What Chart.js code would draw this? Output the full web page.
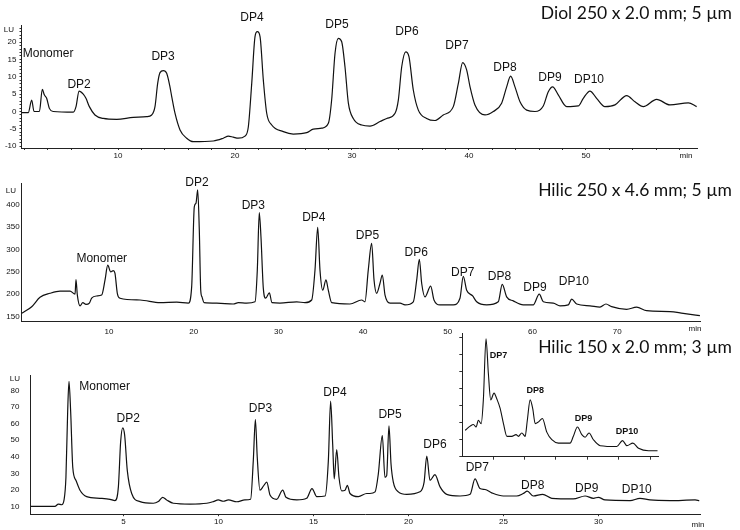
<!DOCTYPE html>
<html>
<head>
<meta charset="utf-8">
<script src="https://cdn.jsdelivr.net/npm/chart.js@4.4.1/dist/chart.umd.min.js"></script>
<style>
  body { margin: 0; background: #fff; }
  #wrap { position: relative; width: 740px; height: 530px; overflow: hidden; }
  #wrap canvas { position: absolute; }
</style>
</head>
<body>
<div id="wrap">
  <canvas id="diol" width="740" height="170" style="left:0;top:0"></canvas>
  <canvas id="hilic250" width="740" height="175" style="left:0;top:165px"></canvas>
  <canvas id="hilic150" width="740" height="200" style="left:0;top:330px"></canvas>
  <canvas id="inset" width="230" height="140" style="left:440px;top:325px"></canvas>
</div>
<script>
// Diol 250 x 2.0 mm (time in min, signal in LU)
const diolTime = [1.77,2.33,2.62,2.82,3.28,3.53,3.7,3.9,4.13,4.47,
  6.18,6.41,6.67,7.03,7.26,7.55,8.03,8.74,9.89,11.31,
  12.45,12.88,13.16,13.39,13.59,13.87,14.16,14.44,14.59,14.87,
  15.3,15.87,16.44,18.15,19,19.43,19.85,20.28,20.85,21.14,
  21.43,21.71,21.91,22.14,22.42,22.71,23.14,24.13,24.98,26.13,
  26.69,27.41,27.98,28.26,28.55,28.83,29.12,29.4,29.69,30.11,
  30.83,31.54,32.39,32.97,33.68,33.96,34.25,34.59,34.87,35.24,
  35.67,36.38,37.09,37.8,38.66,39.09,39.46,39.8,40.09,40.51,
  41.37,42.08,42.79,43.22,43.56,43.93,44.36,44.93,45.64,46.35,
  46.78,47.15,47.63,48.35,49.34,49.77,50.34,50.91,51.62,52.48,
  53.48,54.19,54.9,56.04,57.18,58.75,59.46];
const diolLU = [-0.35,-0.3,3.3,0,0,6.4,4.8,3.8,0.9,0,
  -0.2,1.4,5.9,5,3.8,1.4,-1,-2,-2.25,-1.7,
  -1.5,-1,1.4,8.1,11.2,11.8,11,7.1,4.3,-0.5,
  -5.3,-7.7,-8.7,-8.5,-7.7,-7.1,-7.4,-7.7,-7.1,-4.4,
  8.1,21.6,23,21.6,9.1,-0.5,-3.9,-5.8,-6.5,-6.1,
  -5.1,-4.8,-3.4,3.3,16.8,21.1,20.1,12.9,2.4,-2,
  -3.9,-4.2,-2.9,-2,-0.5,3.3,12.9,17.2,15.8,6.2,
  0.4,-2,-2.6,-1,1.4,8.1,14.1,12,7.1,1.9,
  -1,0,2.4,7.1,10.2,7.1,2.8,0.4,0,1.6,
  5.7,7.1,4.8,1.4,1.6,3.8,5.9,3.8,1.4,1.9,
  4.6,2.8,1.4,3.5,1.9,2.5,1.4];

// Hilic 250 x 4.6 mm
const h250Time = [-0.31,0.87,1.85,3.03,4.22,5.4,5.99,6.1,6.26,6.58,
  6.9,7.28,7.68,7.95,8.55,9.13,9.53,9.85,10.2,10.5,
  10.7,10.98,11.3,13.66,16.02,18,19.37,19.76,20.07,20.27,
  20.47,20.66,20.83,20.98,21.22,22.72,24.67,25.27,26.25,27.24,
  27.51,27.74,27.94,28.22,28.5,28.93,29.24,30.19,32.16,33.14,
  33.93,34.32,34.64,34.91,35.23,35.62,35.89,36.29,38.45,39.83,
  40.22,40.61,41.01,41.29,41.6,41.99,42.27,42.59,43.18,44.36,
  44.95,45.93,46.33,46.64,46.92,47.31,47.98,48.37,49.08,50.65,
  51.44,51.83,52.23,52.94,53.41,54.59,55.96,56.43,56.95,57.73,
  58.91,60.09,60.8,61.28,62.46,63.25,64.23,64.63,65.22,66.79,
  67.97,68.68,69.35,71.12,72.3,73.48,76.23,77.8,79.77];
const h250LU = [157,172,193,202,207,207,200,233,198,174,
  181,177,180,191,196,198,232,265,250,253,
  247,202,191,187,181,182,180,217,396,404,
  434,344,209,194,181,180,178,181,180,183,
  254,383,329,213,191,203,181,180,183,181,
  187,254,350,254,209,232,209,181,178,187,
  183,254,314,232,202,224,243,198,180,180,
  176,183,232,278,224,194,218,187,176,176,
  191,240,209,196,183,176,183,222,194,185,
  176,176,200,183,180,174,176,189,178,174,
  171,178,172,166,171,163,161,157,152];

// Hilic 150 x 2.0 mm
const h150Time = [0.12,1.39,1.57,1.75,1.87,1.97,2.06,2.13,2.22,2.33,
  2.5,2.71,3.06,3.76,4.29,4.55,4.73,4.85,4.96,5.06,
  5.2,5.43,5.87,6.57,6.83,7.06,7.27,7.62,8.5,9.38,
  9.73,9.99,10.25,10.52,10.96,11.39,11.69,11.83,11.94,12.04,
  12.18,12.36,12.54,12.71,13.06,13.38,13.55,14.12,14.64,14.92,
  15.17,15.61,15.78,15.9,16.01,16.09,16.22,16.34,16.48,16.66,
  16.78,16.92,17.36,17.8,17.97,18.24,18.41,18.62,18.76,18.85,
  18.97,19.08,19.2,19.46,19.91,20.6,20.82,20.96,21.13,21.39,
  21.66,22.01,22.71,23.24,23.5,23.76,24.03,24.38,24.99,25.69,
  26.04,26.25,26.57,27.06,27.54,28.67,29.29,29.73,29.99,30.34,
  31.66,32.18,32.71,33.76,35.08,35.3];
const h150LU = [10,10,11.4,11,13.9,27.6,66.9,85.5,66.9,33.5,
  25.7,19.8,15.9,14.9,14.3,13.5,21.8,49.2,57.5,53.1,
  31.6,17.8,12.9,11.9,12.9,15.5,13.9,11.9,11.4,11.9,
  12.9,13.9,13.1,13.9,12.8,13.9,14.3,37.5,62.5,39.4,
  19.8,22.2,24.7,16.9,14.3,19.8,15.5,13.9,14.9,20.8,
  15.9,16.3,37.5,73.7,47.2,26.6,44.3,27.6,19.4,19.8,
  22.7,17.8,15.9,17.8,17.8,18.8,29.6,52.8,27.6,28.6,
  58.6,35.5,24.7,18.8,17.3,18.8,24.7,40.4,25.7,29.2,
  21.8,17.3,16.3,17.3,26.6,20.8,20.2,18.2,16.3,16.3,
  17.8,19.2,16.3,17.3,14.9,14.5,16.3,14.9,15.5,13.9,
  13.5,14.9,13.9,13.5,13.9,13.5];

// inset: zoom on DP7-DP10 of the Hilic 150 run
const insetTime = [22.22,22.54,22.75,22.92,23.06,23.24,23.38,23.55,23.7,23.85,
  24.06,24.24,24.45,24.66,24.88,25.19,25.46,25.61,25.83,26.04,
  26.18,26.36,26.53,26.68,26.89,27.14,27.42,27.74,28.16,28.9,
  29.11,29.37,29.65,29.86,30.11,30.39,30.82,31.88,32.24,32.52,
  32.9,33.26,33.9,34.47];
const insetLU = [15.1,15.6,15.8,15.5,16.3,15.9,18.7,25.9,21.8,18.7,
  19.5,18.8,17.7,15.9,14.4,14.4,14.6,14.4,14.8,14.4,
  16.3,18.7,17.6,15.9,16.1,16.5,14.9,14.0,13.6,13.6,
  14.4,15.5,14.6,14.3,14.8,14.0,13.3,13.2,13.9,13.3,
  13.6,13.0,12.7,12.7];

// peak labels (anchor in min / LU)
const peakNames = ['Monomer','DP2','DP3','DP4','DP5','DP6','DP7','DP8','DP9','DP10'];
const diolLabelT = [4.02,6.67,13.85,21.45,28.72,34.7,38.97,43.08,46.92,50.26];
const diolLabelV = [16.8,7.6,15.7,26.9,24.9,22.9,18.9,12.5,9.7,9.1];
const h250LabelT = [9.14,20.39,27.04,34.18,40.52,46.27,51.77,56.1,60.3,64.88];
const h250LabelV = [280.5,449.3,398.2,370.9,330.9,292.8,249.3,238.2,213.9,228.9];
const h150LabelT = [4.01,5.25,12.21,16.13,19.03,21.39,23.62,26.54,29.38,32.01];
const h150LabelV = [82.1,62.9,68.8,78.6,65.7,47.2,33.2,22.5,21,19.8];
const insetNames = ['DP7','DP8','DP9','DP10'];
const insetLabelT = [24.34,26.68,29.75,32.52];
const insetLabelV = [23.96,19.85,16.52,14.94];

// axis ticks
const diolXTicks = [2,4,6,8,10,12,14,16,18,20,22,24,26,28,30,32,34,36,38,40,42,44,46,48,50,52,54,56,58];
const diolXLabels = [10,20,30,40,50];
const diolYTicks = [-10,-9,-8,-7,-6,-5,-4,-3,-2,-1,0,1,2,3,4,5,6,7,8,9,10,11,12,13,14,15,16,17,18,19,20,21,22,23,24];
const diolYLabels = [-10,-5,0,5,10,15,20];
const h250XTicks = [10,20,30,40,50,60,70];
const h250YTicks = [150,200,250,300,350,400];
const h150XTicks = [5,10,15,20,25,30];
const h150YTicks = [10,20,30,40,50,60,70,80];
const insetXTicks = [24,26,28,30,32,34];
const insetYTicks = [12,14,16,18,20,22,24,26];

const tickFont = { size: 8, family: '"Liberation Sans Narrow", "Liberation Sans", Arial' };

const annotate = {
  id: 'annotate',
  afterDraw(chart, args, o) {
    const ctx = chart.ctx, x = chart.scales.x, y = chart.scales.y;
    ctx.save();
    ctx.fillStyle = '#111';
    ctx.textBaseline = 'middle';
    ctx.textAlign = 'center';
    ctx.font = o.peakFont;
    o.names.forEach((n, i) => {
      ctx.fillText(n, x.getPixelForValue(o.t[i]), y.getPixelForValue(o.v[i]));
    });
    ctx.font = '8px "Liberation Sans Narrow", "Liberation Sans"';
    if (o.lu) { ctx.textAlign = 'right'; ctx.fillText('LU', o.lu[0], o.lu[1]); }
    if (o.min) { ctx.textAlign = 'center'; ctx.fillText('min', o.min[0], o.min[1]); }
    if (o.title) {
      ctx.font = '17.5px Lato';
      ctx.textAlign = 'right';
      ctx.textBaseline = 'alphabetic';
      ctx.fillText(o.title, 732, o.titleY);
    }
    ctx.restore();
  }
};

function panel(id, time, lu, g) {
  const pts = time.map((t, i) => ({ x: t, y: lu[i] }));
  return new Chart(document.getElementById(id), {
    type: 'line',
    data: { datasets: [{
      data: pts, borderColor: '#111', borderWidth: g.lineWidth || 1.2,
      pointRadius: 0, cubicInterpolationMode: 'monotone', fill: false
    }] },
    options: {
      responsive: false, animation: false, events: [],
      layout: { padding: { left: 0, right: g.padRight, top: g.padTop, bottom: 0 } },
      plugins: { legend: { display: false }, tooltip: { enabled: false }, annotate: g.annot },
      scales: {
        x: {
          type: 'linear', min: g.xMin, max: g.xMax,
          afterFit: s => { s.height = g.xHeight; },
          afterBuildTicks: s => { s.ticks = g.xTicks.map(v => ({ value: v })); },
          grid: { drawOnChartArea: false, drawTicks: g.xTickLen > 0, tickLength: g.xTickLen, color: '#333' },
          border: { color: '#222', width: 1 },
          ticks: {
            autoSkip: false, maxRotation: 0, padding: g.xPad, color: '#111', font: tickFont,
            callback: v => (g.xLabels && g.xLabels.includes(v)) ? v : ''
          }
        },
        y: {
          type: 'linear', min: g.yMin, max: g.yMax,
          afterFit: s => { s.width = g.yWidth; },
          afterBuildTicks: s => { s.ticks = g.yTicks.map(v => ({ value: v })); },
          grid: { drawOnChartArea: false, drawTicks: g.yTickLen > 0, tickLength: g.yTickLen, color: '#333' },
          border: { color: '#222', width: 1 },
          ticks: {
            autoSkip: false, padding: g.yPad, color: '#111', font: tickFont,
            callback: v => (g.yLabels && g.yLabels.includes(v)) ? v : ''
          }
        }
      }
    },
    plugins: [annotate]
  });
}

panel('diol', diolTime, diolLU, {
  xMin: 1.75, xMax: 59.49, yMin: -10.52, yMax: 24.93,
  yWidth: 21.5, padTop: 25, padRight: 43, xHeight: 22,
  xTicks: diolXTicks, xLabels: diolXLabels, xTickLen: 2, xPad: 1,
  yTicks: diolYTicks, yLabels: diolYLabels, yTickLen: 2, yPad: 3,
  annot: { names: peakNames, t: diolLabelT, v: diolLabelV, peakFont: '12px "Liberation Sans"',
    lu: [14, 30], min: [686, 156], title: 'Diol 250 x 2.0 mm; 5 µm', titleY: 18.5 }
});

panel('hilic250', h250Time, h250LU, {
  xMin: -0.31, xMax: 79.78, yMin: 139.9, yMax: 449.3,
  yWidth: 21.7, padTop: 18, padRight: 40, xHeight: 19,
  xTicks: h250XTicks, xLabels: h250XTicks, xTickLen: 0, xPad: 6,
  yTicks: h250YTicks, yLabels: h250YTicks, yTickLen: 0, yPad: 2,
  annot: { names: peakNames, t: h250LabelT, v: h250LabelV, peakFont: '12px "Liberation Sans"',
    lu: [16, 25.5], min: [695, 164], title: 'Hilic 250 x 4.6 mm; 5 µm', titleY: 31 }
});

panel('hilic150', h150Time, h150LU, {
  xMin: 0.105, xMax: 35.34, yMin: 5.29, yMax: 89.4,
  yWidth: 30.5, padTop: 45, padRight: 40, xHeight: 12,
  xTicks: h150XTicks, xLabels: h150XTicks, xTickLen: 2, xPad: 1,
  yTicks: h150YTicks, yLabels: h150YTicks, yTickLen: 0, yPad: 11,
  annot: { names: peakNames, t: h150LabelT, v: h150LabelV, peakFont: '12px "Liberation Sans"',
    lu: [20, 49], min: [698, 194.5], title: 'Hilic 150 x 2.0 mm; 3 µm', titleY: 23.3 }
});

panel('inset', insetTime, insetLU, {
  xMin: 22.04, xMax: 34.5, yMin: 12, yMax: 26.5, lineWidth: 1.1,
  yWidth: 22.3, padTop: 8.7, padRight: 12, xHeight: 8.3,
  xTicks: insetXTicks, xLabels: [], xTickLen: 3, xPad: 0,
  yTicks: insetYTicks, yLabels: [], yTickLen: 3, yPad: 0,
  annot: { names: insetNames, t: insetLabelT, v: insetLabelV, peakFont: 'bold 9px "Liberation Sans"' }
});
</script>
</body>
</html>
